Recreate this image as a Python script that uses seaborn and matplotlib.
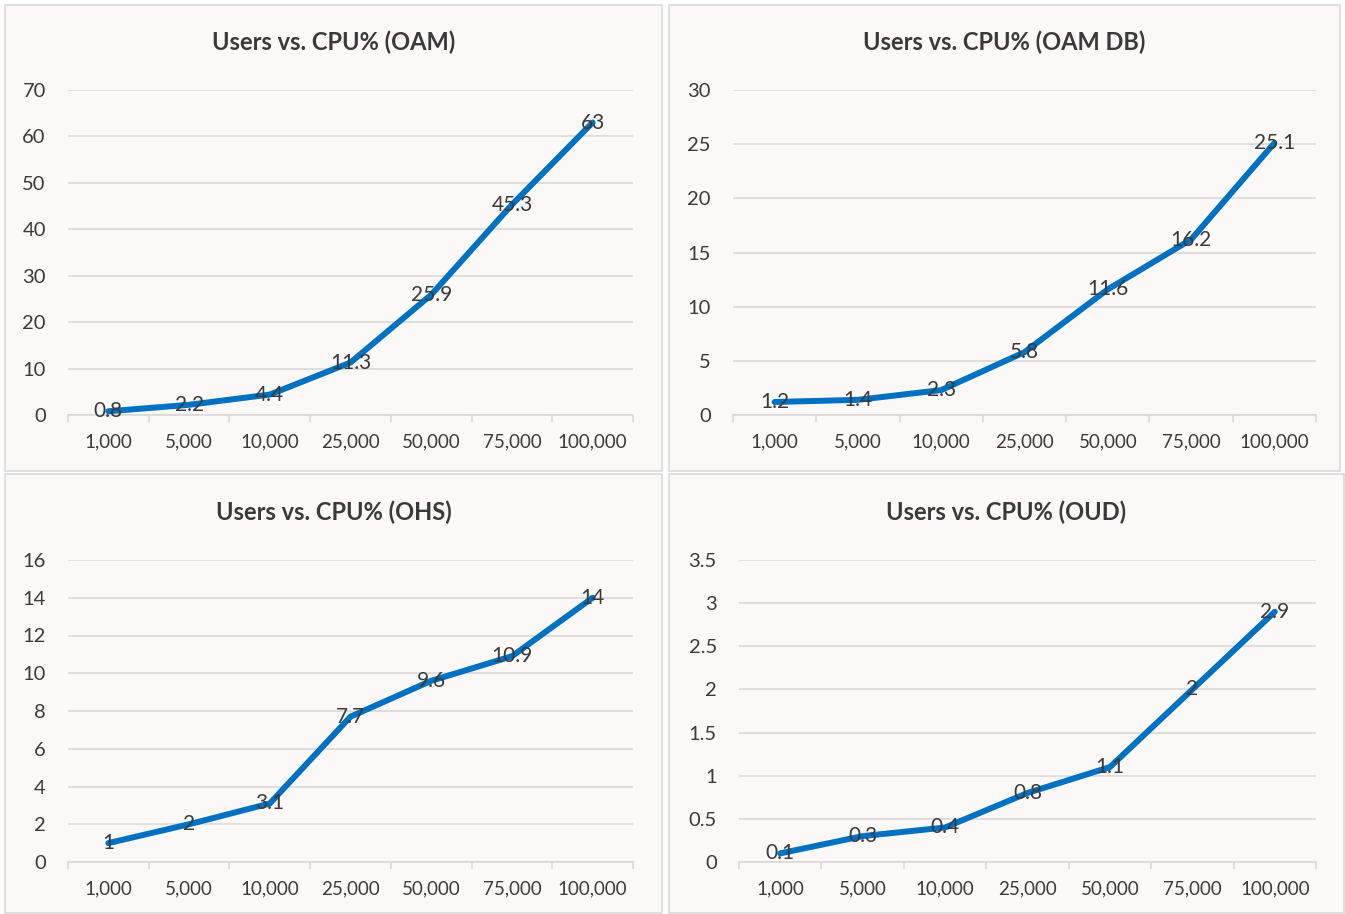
import matplotlib
matplotlib.use("Agg")
import matplotlib.pyplot as plt
from matplotlib.patches import Rectangle
import seaborn as sns
import pandas as pd
import numpy as np

users = ["1,000", "5,000", "10,000", "25,000", "50,000", "75,000", "100,000"]
oam = [0.8, 2.2, 4.4, 11.3, 25.9, 45.3, 63]
oam_db = [1.2, 1.4, 2.3, 5.8, 11.6, 16.2, 25.1]
ohs = [1, 2, 3.1, 7.7, 9.6, 10.9, 14]
oud = [0.1, 0.3, 0.4, 0.8, 1.1, 2, 2.9]

titles = ["Users vs. CPU% (OAM)", "Users vs. CPU% (OAM DB)",
          "Users vs. CPU% (OHS)", "Users vs. CPU% (OUD)"]
yticks_oam = [0, 10, 20, 30, 40, 50, 60, 70]
yticks_oam_db = [0, 5, 10, 15, 20, 25, 30]
yticks_ohs = [0, 2, 4, 6, 8, 10, 12, 14, 16]
yticks_oud = [0, 0.5, 1, 1.5, 2, 2.5, 3, 3.5]

sns.set_theme(style="white")
plt.rcParams['font.family'] = ['Lato', 'DejaVu Sans']

W, H = 1345, 914
fig = plt.figure(figsize=(W / 100, H / 100), dpi=100)
fig.patch.set_facecolor("white")

bg = "#FAF9F8"
edge = "#D9D9D9"
txt = "#3A3A3A"
line_c = "#0070C0"

def fx(px):
    return px / W

def fy(py):
    return 1 - py / H

# panel boxes (x0, y0, x1, y1) in pixels
boxes = [(5, 5, 662, 471), (669, 5, 1340, 471), (5, 474, 662, 913), (669, 474, 1344, 913)]
# axes areas (x0, ytop, x1, ybottom)
areas = [(68, 90, 633, 415), (733, 90, 1316, 415), (68, 560, 633, 862), (739, 560, 1316, 862)]
title_y = [42, 42, 512, 512]

series = [oam, oam_db, ohs, oud]
yticks = [yticks_oam, yticks_oam_db, yticks_ohs, yticks_oud]

def fmt(v):
    return f"{v:g}"

for i in range(4):
    x0, y0, x1, y1 = boxes[i]
    fig.patches.append(Rectangle((fx(x0), fy(y1)), fx(x1 - x0), (y1 - y0) / H,
                                 transform=fig.transFigure, facecolor=bg,
                                 edgecolor=edge, linewidth=1.2, zorder=-5))
    fig.text(fx((x0 + x1) / 2), fy(title_y[i]), titles[i], ha="center", va="center",
             fontsize=17, fontweight="bold", color=txt)
    ax0, at, ax1, ab = areas[i]
    ax = fig.add_axes([fx(ax0), fy(ab), fx(ax1 - ax0), (ab - at) / H])
    ax.set_facecolor("none")
    df = pd.DataFrame({"Users": users, "CPU": series[i]})
    sns.lineplot(data=df, x="Users", y="CPU", ax=ax, color=line_c, linewidth=4.3,
                 sort=False, solid_capstyle="round", solid_joinstyle="round", zorder=3)
    for j, v in enumerate(series[i]):
        ax.text(j, v, fmt(v), ha="center", va="center", fontsize=15, color=txt, zorder=4)
    yt = yticks[i]
    ax.set_ylim(yt[0], yt[-1])
    ax.set_yticks(yt)
    ax.set_yticklabels([fmt(t) for t in yt])
    ax.set_xlim(-0.5, len(users) - 0.5)
    ax.set_xticks(range(len(users)))
    ax.set_xticklabels(users)
    ax.set_xticks(np.arange(-0.5, len(users), 1.0), minor=True)
    ax.set_xlabel("")
    ax.set_ylabel("")
    ax.grid(axis="y", color="#D9D9D9", linewidth=1.2, zorder=0)
    ax.grid(axis="x", visible=False)
    ax.set_axisbelow(True)
    for s in ["top", "right", "left"]:
        ax.spines[s].set_visible(False)
    ax.spines["bottom"].set_color("#D9D9D9")
    ax.spines["bottom"].set_linewidth(1.2)
    ax.tick_params(axis="y", length=0, pad=16, labelsize=14.5, labelcolor=txt)
    ax.tick_params(axis="x", which="major", length=0, pad=13, labelsize=13.5, labelcolor=txt)
    ax.tick_params(axis="x", which="minor", length=5, width=1.2, color="#D9D9D9", direction="out",
                   bottom=True)

fig.savefig("out.png", dpi=100, facecolor="white")
